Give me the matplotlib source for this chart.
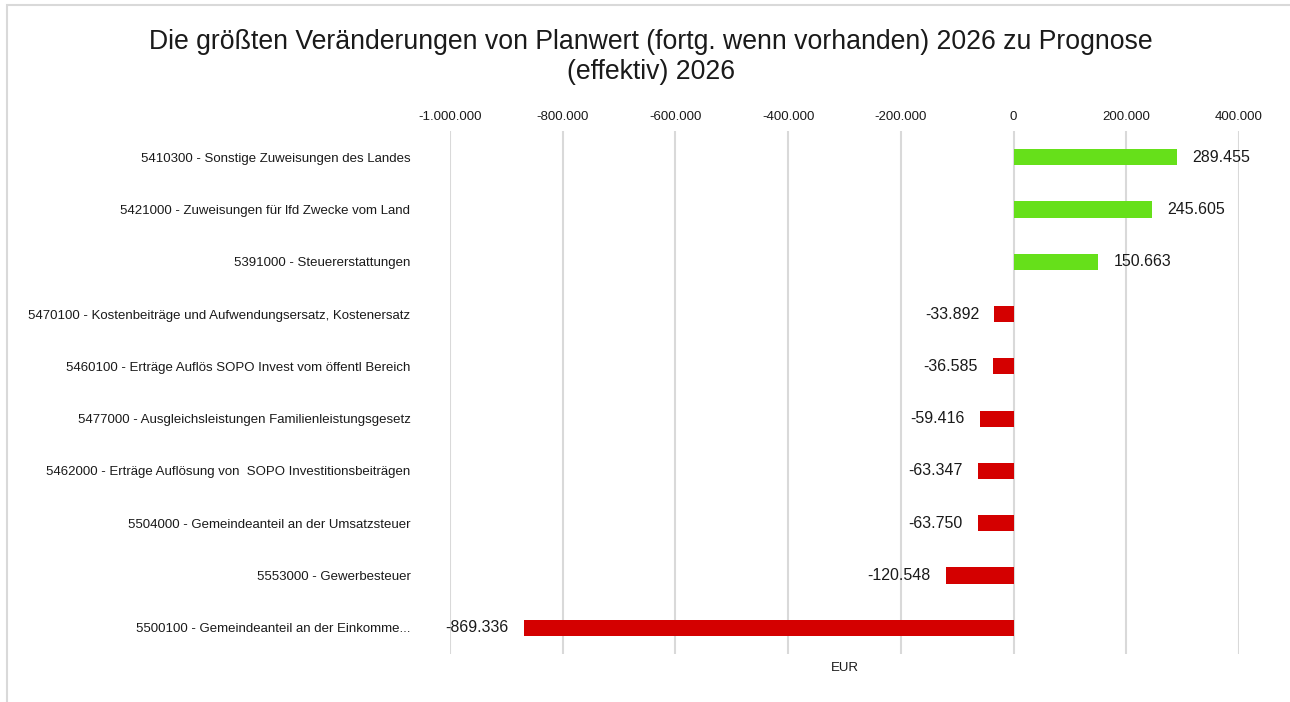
import matplotlib
matplotlib.use("Agg")
import matplotlib.pyplot as plt
from matplotlib.patches import Rectangle
from matplotlib.ticker import FuncFormatter

plt.rcParams['font.family'] = ['Liberation Sans', 'DejaVu Sans']

# Data
categories = [
    "5410300 - Sonstige Zuweisungen des Landes",
    "5421000 - Zuweisungen für lfd Zwecke vom Land",
    "5391000 - Steuererstattungen",
    "5470100 - Kostenbeiträge und Aufwendungsersatz, Kostenersatz",
    "5460100 - Erträge Auflös SOPO Invest vom öffentl Bereich",
    "5477000 - Ausgleichsleistungen Familienleistungsgesetz",
    "5462000 - Erträge Auflösung von  SOPO Investitionsbeiträgen",
    "5504000 - Gemeindeanteil an der Umsatzsteuer",
    "5553000 - Gewerbesteuer",
    "5500100 - Gemeindeanteil an der Einkomme...",
]
values = [289455, 245605, 150663, -33892, -36585, -59416, -63347, -63750, -120548, -869336]
x_ticks = [-1000000, -800000, -600000, -400000, -200000, 0, 200000, 400000]

GREEN = '#66e01a'
RED = '#d40000'


def de_fmt(v):
    return f"{int(v):,}".replace(",", ".")


fig = plt.figure(figsize=(12.9, 7.02), dpi=100)
ax = fig.add_axes([450 / 1290, 1 - 654 / 702, 789 / 1290, 523 / 702])

# light frame around the chart
fig.patches.append(Rectangle((7 / 1290, -0.1), 1.2, 1 - 5 / 702 + 0.1,
                             transform=fig.transFigure, fill=False,
                             edgecolor='#d9d9d9', linewidth=1.5))

pos = list(range(len(values)))
colors = [GREEN if v >= 0 else RED for v in values]
ax.barh(pos, values, height=0.31, color=colors, zorder=3)

for p, v in zip(pos, values):
    if v >= 0:
        ax.annotate(de_fmt(v), (v, p), xytext=(11, 0), textcoords='offset points',
                    ha='left', va='center', fontsize=11.5, color='#1a1a1a')
    else:
        ax.annotate(de_fmt(v), (v, p), xytext=(-11, 0), textcoords='offset points',
                    ha='right', va='center', fontsize=11.5, color='#1a1a1a')

ax.set_xlim(-1000000, 400000)
ax.set_ylim(len(values) - 0.5, -0.5)
ax.set_xticks(x_ticks)
ax.xaxis.set_major_formatter(FuncFormatter(lambda v, _: de_fmt(v)))
ax.xaxis.tick_top()
ax.tick_params(axis='x', length=0, pad=5.5, labelsize=9.5, labelcolor='#1a1a1a')
ax.set_yticks(pos)
ax.set_yticklabels(categories)
ax.tick_params(axis='y', length=0, pad=28.5, labelsize=9.5, labelcolor='#1a1a1a')
ax.grid(axis='x', color='#d9d9d9', linewidth=1.5, zorder=0)
for s in ax.spines.values():
    s.set_visible(False)

ax.set_xlabel("EUR", fontsize=9.5, color='#1a1a1a', labelpad=6)
ax.xaxis.set_label_position('bottom')

fig.text(651 / 1290, 1 - 57 / 702,
         "Die größten Veränderungen von Planwert (fortg. wenn vorhanden) 2026 zu Prognose\n(effektiv) 2026",
         ha='center', va='center', fontsize=19.2, color='#1a1a1a', linespacing=1.2)

fig.savefig("out.png", dpi=100)
